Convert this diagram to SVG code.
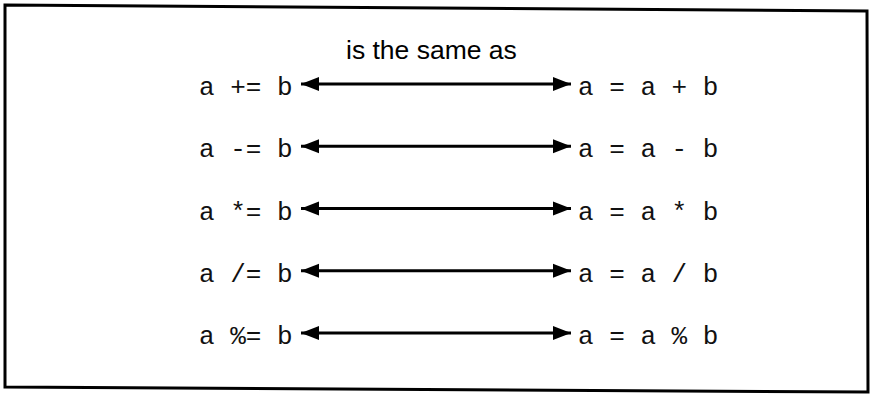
<svg xmlns="http://www.w3.org/2000/svg" width="870" height="394" viewBox="0 0 870 394">
<style>
.code{font-family:"Liberation Mono","Courier New",monospace;font-size:26px;fill:#111;white-space:pre}
.title{font-family:"Liberation Sans",Arial,sans-serif;font-size:26.5px;fill:#000}
.conn{stroke:#000;stroke-width:3;fill:none}
</style>
<defs>
<marker id="ah" markerUnits="userSpaceOnUse" markerWidth="20" markerHeight="16" refX="18" refY="8" orient="auto-start-reverse">
<path d="M0,1 L18,8 L0,15 Z" fill="#000"/>
</marker>
</defs>
<rect width="870" height="394" fill="#fff"/>
<polygon points="5,5 867,11 868,392 5,387" fill="none" stroke="#000" stroke-width="3"/>
<g id="title"><text class="title" x="346" y="59">is the same as</text></g>
<g id="connectors">
<line class="conn" x1="301" y1="84" x2="571" y2="84" marker-start="url(#ah)" marker-end="url(#ah)"/>
<line class="conn" x1="301" y1="146.25" x2="571" y2="146.25" marker-start="url(#ah)" marker-end="url(#ah)"/>
<line class="conn" x1="301" y1="208.5" x2="571" y2="208.5" marker-start="url(#ah)" marker-end="url(#ah)"/>
<line class="conn" x1="301" y1="270.75" x2="571" y2="270.75" marker-start="url(#ah)" marker-end="url(#ah)"/>
<line class="conn" x1="301" y1="333" x2="571" y2="333" marker-start="url(#ah)" marker-end="url(#ah)"/>
</g>
<g id="left1"><text class="code" x="199" y="95">a += b</text></g>
<g id="right1"><text class="code" x="578" y="95">a = a + b</text></g>
<g id="left2"><text class="code" x="199" y="157.25">a -= b</text></g>
<g id="right2"><text class="code" x="578" y="157.25">a = a - b</text></g>
<g id="left3"><text class="code" x="199" y="219.5">a *= b</text></g>
<g id="right3"><text class="code" x="578" y="219.5">a = a * b</text></g>
<g id="left4"><text class="code" x="199" y="281.75">a /= b</text></g>
<g id="right4"><text class="code" x="578" y="281.75">a = a / b</text></g>
<g id="left5"><text class="code" x="199" y="344">a %= b</text></g>
<g id="right5"><text class="code" x="578" y="344">a = a % b</text></g>
</svg>
